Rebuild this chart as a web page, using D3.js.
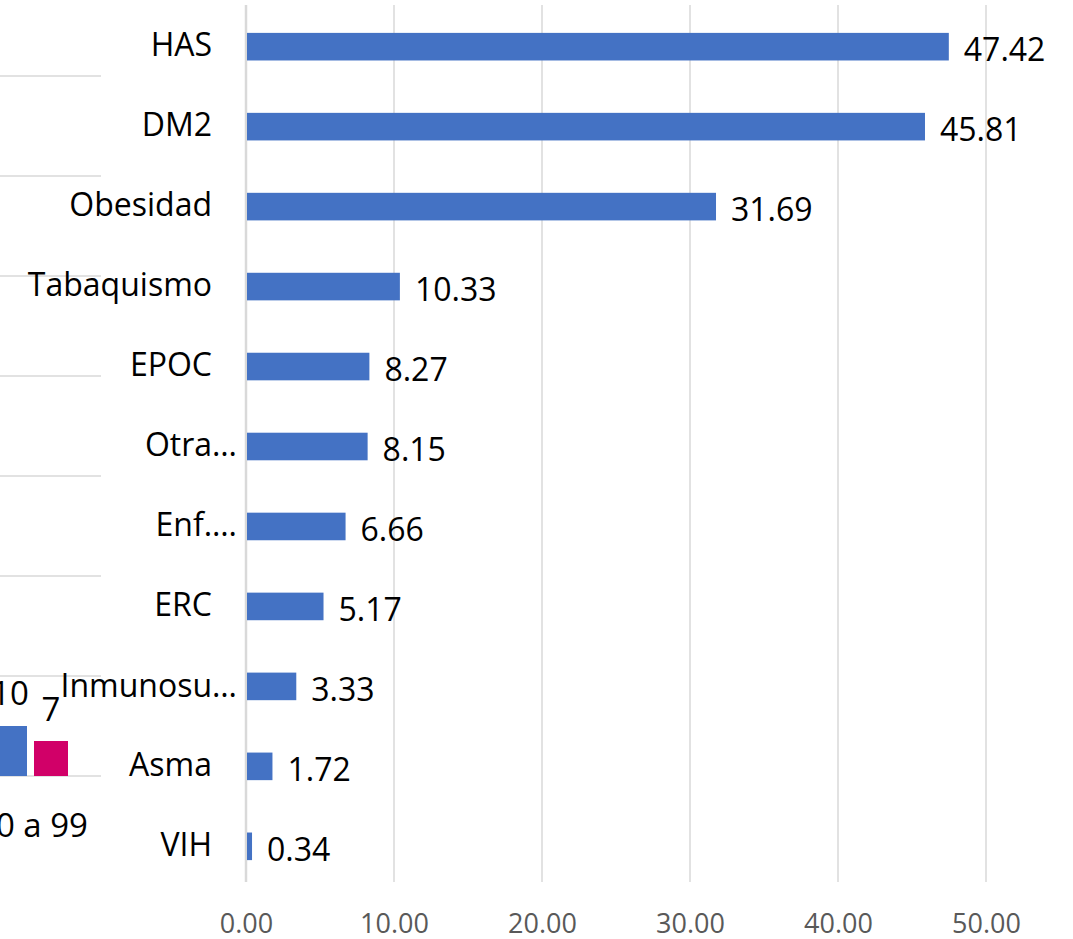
<!DOCTYPE html>
<html lang="es">
<head>
<meta charset="utf-8">
<script src="https://cdn.jsdelivr.net/npm/d3@7"></script>
<style>
body { margin: 0; background: #fff; }
svg { display: block; font-family: "Open Sans", sans-serif; }
.grid line { stroke: #d9d9d9; stroke-width: 1.5; }
.axis path, .axis line { display: none; }
</style>
</head>
<body>
<div id="chart"></div>
<script>

// main chart: comorbidities (%)
var categories = ["HAS", "DM2", "Obesidad", "Tabaquismo", "EPOC", "Otra\u2026", "Enf.\u2026", "ERC", "Inmunosu\u2026", "Asma", "VIH"];
var values = [47.42, 45.81, 31.69, 10.33, 8.27, 8.15, 6.66, 5.17, 3.33, 1.72, 0.34];
var ticks = [0, 10, 20, 30, 40, 50];

// clipped neighbour chart on the left
var ageGroups = ["90 a 99"];
var seriesA = [10];
var seriesB = [7];
var leftGrid = [0, 20, 40, 60, 80, 100, 120, 140];

var W = 1073, H = 939;
var svg = d3.select("#chart").append("svg")
    .attr("width", W)
    .attr("height", H);

// ---- left fragment ----
var ly = d3.scaleLinear().domain([0, 140]).range([776, 76]);
var lx = d3.scaleBand().domain(ageGroups).range([-40, 101]);

svg.append("g").attr("class", "grid")
  .selectAll("line")
  .data(leftGrid)
  .enter().append("line")
    .attr("x1", 0).attr("x2", 101)
    .attr("y1", function(d) { return ly(d); })
    .attr("y2", function(d) { return ly(d); });

var bw = 34;
ageGroups.forEach(function(g, i) {
  var cx = lx(g) + lx.bandwidth() / 2;
  svg.append("rect")
    .attr("x", cx - bw - 3.5).attr("width", bw)
    .attr("y", ly(seriesA[i])).attr("height", ly(0) - ly(seriesA[i]))
    .attr("fill", "#4472c4");
  svg.append("rect")
    .attr("x", cx + 3.5).attr("width", bw)
    .attr("y", ly(seriesB[i])).attr("height", ly(0) - ly(seriesB[i]))
    .attr("fill", "#d10068");
  svg.append("text")
    .attr("x", cx - bw / 2 - 3.5).attr("y", ly(seriesA[i]) - 21)
    .attr("text-anchor", "middle").attr("font-size", 33).attr("fill", "#000")
    .text(seriesA[i]);
  svg.append("text")
    .attr("x", cx + bw / 2 + 3.5).attr("y", ly(seriesB[i]) - 20)
    .attr("text-anchor", "middle").attr("font-size", 33).attr("fill", "#000")
    .text(seriesB[i]);
  svg.append("text")
    .attr("x", cx + 2).attr("y", 837)
    .attr("text-anchor", "middle").attr("font-size", 33).attr("fill", "#000")
    .text(g);
});

// ---- main chart ----
var x = d3.scaleLinear().domain([0, 50]).range([246, 986]);
var y = d3.scaleBand().domain(categories).range([6.5, 886.5]).paddingInner(0.655).paddingOuter(0.33);

svg.append("g").attr("class", "grid")
  .selectAll("line")
  .data(ticks)
  .enter().append("line")
    .attr("x1", function(d) { return x(d); })
    .attr("x2", function(d) { return x(d); })
    .attr("y1", 5).attr("y2", 882)
    .style("stroke-width", function(d) { return d === 0 ? 2.5 : 1.5; });

svg.append("g")
  .attr("class", "axis")
  .attr("transform", "translate(0,924)")
  .call(d3.axisBottom(x).tickValues(ticks).tickFormat(d3.format(".2f")).tickSize(0))
  .selectAll("text")
    .attr("font-size", 27)
    .attr("font-family", "Open Sans, sans-serif")
    .attr("fill", "#595959")
    .attr("dy", "0.35em")
    .attr("y", 0);

svg.selectAll(".bar")
  .data(values)
  .enter().append("rect")
    .attr("class", "bar")
    .attr("x", x(0) + 1)
    .attr("y", function(d, i) { return y(categories[i]); })
    .attr("width", function(d) { return x(d) - x(0); })
    .attr("height", y.bandwidth())
    .attr("fill", "#4472c4");

svg.selectAll(".val")
  .data(values)
  .enter().append("text")
    .attr("class", "val")
    .attr("x", function(d) { return x(d) + 16; })
    .attr("y", function(d, i) { return y(categories[i]) + y.bandwidth() / 2 + 3; })
    .attr("dy", "0.35em")
    .attr("font-size", 32)
    .attr("fill", "#000")
    .text(function(d) { return d.toFixed(2); });

svg.selectAll(".cat")
  .data(categories)
  .enter().append("text")
    .attr("class", "cat")
    .attr("x", function(d) { return d.indexOf("\u2026") >= 0 ? 237 : 212; })
    .attr("y", function(d) { return y(d) + y.bandwidth() / 2 - (d === "Inmunosu\u2026" ? 1 : 2); })
    .attr("dy", "0.35em")
    .attr("text-anchor", "end")
    .attr("font-size", 32)
    .attr("fill", "#000")
    .text(function(d) { return d; });

</script>
</body>
</html>
